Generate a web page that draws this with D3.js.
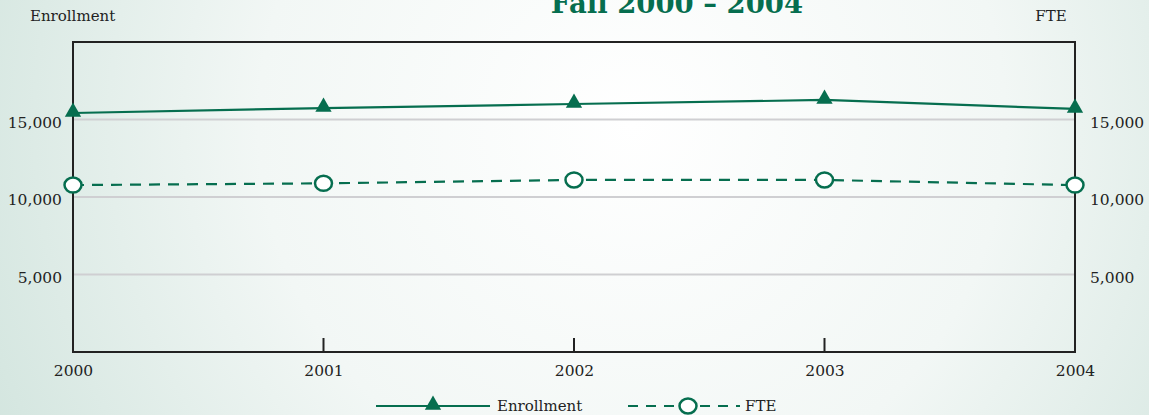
<!DOCTYPE html>
<html><head><meta charset="utf-8">
<script src="https://cdn.jsdelivr.net/npm/d3@7"></script>
<style>html,body{margin:0;padding:0;overflow:hidden;}svg{display:block;}</style>
</head><body>
<script>
const years = [2000, 2001, 2002, 2003, 2004];
const enrollment = [15420, 15740, 16000, 16260, 15680];
const fte = [10770, 10880, 11100, 11100, 10770];
const yTicks = [5000, 10000, 15000];
const title = "Fall 2000 – 2004";

const W = 1149, H = 415;
const green = "#066e4f";
const m = {l: 73, r: 1075, t: 42, b: 352};
const font = "'DejaVu Serif', 'Liberation Serif', serif";

const svg = d3.select("body").append("svg").attr("width", W).attr("height", H);
const defs = svg.append("defs");
const g1 = defs.append("radialGradient").attr("id", "bg")
  .attr("cx", "0.55").attr("cy", "0.3").attr("r", "0.65")
  .attr("gradientTransform", "translate(0.55,0.3) scale(1,2.8) translate(-0.55,-0.3)");
g1.append("stop").attr("offset", "0").attr("stop-color", "#ffffff");
g1.append("stop").attr("offset", "0.5").attr("stop-color", "#f2f7f5");
g1.append("stop").attr("offset", "1").attr("stop-color", "#cfe3dc");
svg.append("rect").attr("width", W).attr("height", H).attr("fill", "url(#bg)");

const x = d3.scaleLinear().domain([2000, 2004]).range([m.l, m.r]);
const y = d3.scaleLinear().domain([0, 20000]).range([m.b, m.t]);

// gridlines
svg.append("g").selectAll("line").data(yTicks).join("line")
  .attr("x1", m.l).attr("x2", m.r)
  .attr("y1", d => y(d)).attr("y2", d => y(d))
  .attr("stroke", "#cfcfd2").attr("stroke-width", 2);

// frame
svg.append("path")
  .attr("d", `M${m.l},${m.b}V${m.t}H${m.r}V${m.b}H${m.l}Z`)
  .attr("fill", "none").attr("stroke", "#222").attr("stroke-width", 2);

// x ticks (inner)
svg.append("g").selectAll("line").data(years.slice(1, -1)).join("line")
  .attr("x1", d => x(d)).attr("x2", d => x(d))
  .attr("y1", m.b).attr("y2", m.b - 14)
  .attr("stroke", "#222").attr("stroke-width", 2);

const fmt = d3.format(",");
const leftAxis = svg.append("g").attr("transform", `translate(${m.l},0)`)
  .call(d3.axisLeft(y).tickValues(yTicks).tickFormat(fmt).tickSize(0).tickPadding(11));
const rightAxis = svg.append("g").attr("transform", `translate(${m.r},0)`)
  .call(d3.axisRight(y).tickValues(yTicks).tickFormat(fmt).tickSize(0).tickPadding(15));
const bottomAxis = svg.append("g").attr("transform", `translate(0,${m.b})`)
  .call(d3.axisBottom(x).tickValues(years).tickFormat(d3.format("d")).tickSize(0).tickPadding(13));
[leftAxis, rightAxis, bottomAxis].forEach(a => {
  a.select(".domain").remove();
  a.selectAll("text").attr("font-family", font).attr("font-size", 15.5).attr("fill", "#222");
});
leftAxis.selectAll("text").attr("dy", "0.5em");
rightAxis.selectAll("text").attr("dy", "0.5em");

// title (top of it is cropped off, as in the reference)
svg.append("text").attr("x", 677).attr("y", 13).attr("text-anchor", "middle")
  .attr("font-family", font).attr("font-weight", "bold").attr("font-size", 27.5)
  .attr("fill", green).text(title);

svg.append("text").attr("x", 30).attr("y", 21).attr("font-family", font)
  .attr("font-size", 15).attr("fill", "#222").text("Enrollment");
svg.append("text").attr("x", 1051).attr("y", 21).attr("text-anchor", "middle").attr("font-family", font)
  .attr("font-size", 15).attr("fill", "#222").text("FTE");

// lines
const line = d3.line().x((d, i) => x(years[i])).y(d => y(d));
svg.append("path").datum(enrollment).attr("d", line)
  .attr("fill", "none").attr("stroke", green).attr("stroke-width", 2.2);
svg.append("path").datum(fte).attr("d", line)
  .attr("fill", "none").attr("stroke", green).attr("stroke-width", 2.2)
  .attr("stroke-dasharray", "11,8");

const tri = d3.symbol().type(d3.symbolTriangle).size(115);
svg.append("g").selectAll("path").data(enrollment).join("path")
  .attr("d", tri)
  .attr("transform", (d, i) => `translate(${x(years[i])},${y(d) - 1})`)
  .attr("fill", green);
svg.append("g").selectAll("ellipse").data(fte).join("ellipse")
  .attr("cx", (d, i) => x(years[i])).attr("cy", d => y(d))
  .attr("rx", 8.5).attr("ry", 7.5)
  .attr("fill", "#fff").attr("stroke", green).attr("stroke-width", 2.5);

// legend
const ly = 406;
const lg = svg.append("g");
lg.append("line").attr("x1", 376).attr("x2", 490).attr("y1", ly).attr("y2", ly)
  .attr("stroke", green).attr("stroke-width", 2.2);
lg.append("path").attr("d", tri).attr("transform", `translate(433,${ly - 1})`).attr("fill", green);
lg.append("text").attr("x", 497).attr("y", ly + 5).attr("font-family", font)
  .attr("font-size", 15).attr("fill", "#222").text("Enrollment");
lg.append("line").attr("x1", 628).attr("x2", 740).attr("y1", ly).attr("y2", ly)
  .attr("stroke", green).attr("stroke-width", 2.2).attr("stroke-dasharray", "10,8");
lg.append("ellipse").attr("cx", 688).attr("cy", ly).attr("rx", 8.5).attr("ry", 7.5)
  .attr("fill", "#fff").attr("stroke", green).attr("stroke-width", 2.5);
lg.append("text").attr("x", 745).attr("y", ly + 5).attr("font-family", font)
  .attr("font-size", 15).attr("fill", "#222").text("FTE");
</script>
</body></html>
